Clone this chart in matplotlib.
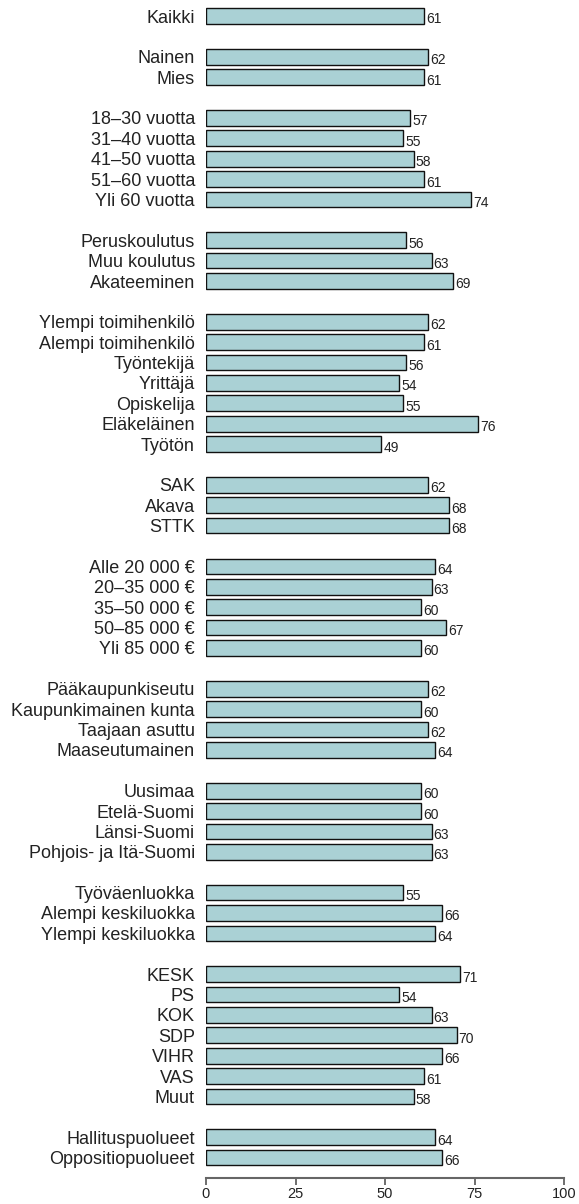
import matplotlib
matplotlib.use("Agg")
from matplotlib import pyplot as plt

plt.rcParams["font.family"] = ["Liberation Sans", "DejaVu Sans"]

# data per group
kaikki = ["Kaikki"]
kaikki_v = [61]
sukupuoli = ["Nainen", "Mies"]
sukupuoli_v = [62, 61]
ika = ["18–30 vuotta", "31–40 vuotta", "41–50 vuotta", "51–60 vuotta", "Yli 60 vuotta"]
ika_v = [57, 55, 58, 61, 74]
koulutus = ["Peruskoulutus", "Muu koulutus", "Akateeminen"]
koulutus_v = [56, 63, 69]
ammatti = ["Ylempi toimihenkilö", "Alempi toimihenkilö", "Työntekijä", "Yrittäjä",
           "Opiskelija", "Eläkeläinen", "Työtön"]
ammatti_v = [62, 61, 56, 54, 55, 76, 49]
liitto = ["SAK", "Akava", "STTK"]
liitto_v = [62, 68, 68]
tulot = ["Alle 20 000 €", "20–35 000 €", "35–50 000 €", "50–85 000 €", "Yli 85 000 €"]
tulot_v = [64, 63, 60, 67, 60]
asuinalue = ["Pääkaupunkiseutu", "Kaupunkimainen kunta", "Taajaan asuttu", "Maaseutumainen"]
asuinalue_v = [62, 60, 62, 64]
alue = ["Uusimaa", "Etelä-Suomi", "Länsi-Suomi", "Pohjois- ja Itä-Suomi"]
alue_v = [60, 60, 63, 63]
luokka = ["Työväenluokka", "Alempi keskiluokka", "Ylempi keskiluokka"]
luokka_v = [55, 66, 64]
puolue = ["KESK", "PS", "KOK", "SDP", "VIHR", "VAS", "Muut"]
puolue_v = [71, 54, 63, 70, 66, 61, 58]
hallitus = ["Hallituspuolueet", "Oppositiopuolueet"]
hallitus_v = [64, 66]

groups = [(kaikki, kaikki_v), (sukupuoli, sukupuoli_v), (ika, ika_v), (koulutus, koulutus_v),
          (ammatti, ammatti_v), (liitto, liitto_v), (tulot, tulot_v), (asuinalue, asuinalue_v),
          (alue, alue_v), (luokka, luokka_v), (puolue, puolue_v), (hallitus, hallitus_v)]

labels, values, pos = [], [], []
slot = 0
for names, vals in groups:
    for n, v in zip(names, vals):
        labels.append(n)
        values.append(v)
        pos.append(slot)
        slot += 1
    slot += 1  # tyhjä rivi ryhmien väliin

fig = plt.figure(figsize=(5.79, 12.04), dpi=100)
ax = fig.add_axes([206 / 579, 26 / 1204, 358 / 579, 1178 / 1204])

ax.barh(pos, values, height=0.77, color="#aad1d5", edgecolor="#111111", linewidth=1.0)

for p, v in zip(pos, values):
    ax.annotate(str(v), (v, p), xytext=(1.5, -2.5), textcoords="offset points",
                va="center", ha="left", fontsize=10, color="#222222")

ax.set_yticks(pos)
ax.set_yticklabels(labels, fontsize=13, color="#222222")
ax.tick_params(axis="y", length=0, pad=8)
ax.set_ylim(57.0, -0.785)
ax.set_xlim(0, 100)
ax.set_xticks([0, 25, 50, 75, 100])
ax.tick_params(axis="x", colors="#555555", labelcolor="#222222", labelsize=10.5,
               length=5, width=1.2, pad=1.5)

for s in ["top", "right", "left"]:
    ax.spines[s].set_visible(False)
ax.spines["bottom"].set_color("#666666")
ax.spines["bottom"].set_linewidth(1.5)

plt.savefig("out.png", dpi=100)
